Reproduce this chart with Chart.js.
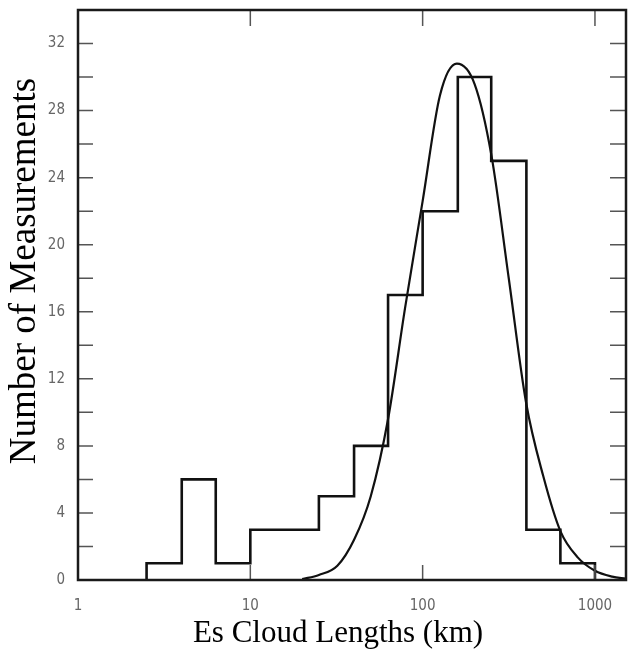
<!DOCTYPE html>
<html><head><meta charset="utf-8">
<script src="https://cdn.jsdelivr.net/npm/chart.js@4/dist/chart.umd.min.js"></script>
<style>html,body{margin:0;padding:0;background:#fff;}#wrap{width:628px;height:652px;}</style>
</head><body><div id="wrap"><canvas id="c" width="628" height="652"></canvas></div>
<script>
// ---- data ----
const binEdges  = [2.5, 4, 6.3, 10, 16, 25, 40, 63, 100, 160, 250, 400, 630, 1000];
const binCounts = [1, 6, 1, 3, 3, 5, 8, 17, 22, 30, 25, 3, 1];
const curveX = [20, 25, 32, 40, 50, 63, 79, 100, 126, 158, 200, 251, 316, 398, 501, 631, 794, 1000, 1259, 1514];
const curveY = [0.05, 0.3, 0.85, 2.4, 5.0, 9.6, 16.2, 22.6, 28.9, 30.8, 29.6, 25.3, 18.0, 10.6, 6.2, 2.9, 1.35, 0.55, 0.2, 0.08];
const xTickValues = [1, 10, 100, 1000];
const yTickValues = [0, 4, 8, 12, 16, 20, 24, 28, 32];
const yMarkValues = [2, 4, 6, 8, 10, 12, 14, 16, 18, 20, 22, 24, 26, 28, 30, 32];
const xMarkValues = [10, 100, 1000];
const xTitle = 'Es Cloud Lengths (km)';
const yTitle = 'Number of Measurements';

// build step points for the histogram
const histPts = [{x: binEdges[0], y: 0}];
binCounts.forEach((c, i) => histPts.push({x: binEdges[i], y: c}));
histPts.push({x: binEdges[binEdges.length - 1], y: 0});
const curvePts = curveX.map((x, i) => ({x: x, y: curveY[i]}));

const framePlugin = {
  id: 'frame',
  afterDraw(chart) {
    const ctx = chart.ctx, a = chart.chartArea;
    const xs = chart.scales.x, ys = chart.scales.y;
    ctx.save();
    // tick marks (inward)
    ctx.strokeStyle = '#555';
    ctx.lineWidth = 1.5;
    ctx.beginPath();
    yMarkValues.forEach(v => {
      const y = ys.getPixelForValue(v);
      ctx.moveTo(a.left, y); ctx.lineTo(a.left + 15, y);
      ctx.moveTo(a.right, y); ctx.lineTo(a.right - 16, y);
    });
    xMarkValues.forEach(v => {
      const x = xs.getPixelForValue(v);
      ctx.moveTo(x, a.top); ctx.lineTo(x, a.top + 16);
      ctx.moveTo(x, a.bottom); ctx.lineTo(x, a.bottom - 15);
    });
    ctx.stroke();
    // frame
    ctx.strokeStyle = '#1a1a1a';
    ctx.lineWidth = 2.5;
    ctx.strokeRect(a.left, a.top, a.right - a.left, a.bottom - a.top);
    // titles
    ctx.fillStyle = '#000';
    ctx.font = '31px "Liberation Serif", "Times New Roman", serif';
    ctx.textAlign = 'center';
    ctx.textBaseline = 'alphabetic';
    ctx.fillText(xTitle, 338, 642);
    ctx.translate(35, 271);
    ctx.rotate(-Math.PI / 2);
    ctx.font = '37px "Liberation Serif", "Times New Roman", serif';
    ctx.fillText(yTitle, 0, 0);
    ctx.restore();
  }
};

const tickFont = {family: '"Liberation Sans Narrow", "DejaVu Sans Condensed", "Liberation Sans", sans-serif', size: 15};

new Chart(document.getElementById('c').getContext('2d'), {
  type: 'line',
  data: {
    datasets: [
      {data: histPts, stepped: 'before', borderColor: '#111', borderWidth: 2.6, pointRadius: 0, fill: false},
      {data: curvePts, borderColor: '#111', borderWidth: 2.2, pointRadius: 0, fill: false, cubicInterpolationMode: 'monotone'}
    ]
  },
  options: {
    responsive: false,
    animation: false,
    devicePixelRatio: 1,
    layout: {padding: {top: 10, right: 2, left: 0, bottom: 0}},
    plugins: {legend: {display: false}, tooltip: {enabled: false}},
    scales: {
      x: {
        type: 'logarithmic', min: 1, max: 1514,
        afterBuildTicks: s => { s.ticks = xTickValues.map(v => ({value: v})); },
        afterFit: s => { s.height = 72; s.paddingLeft = 0; s.paddingRight = 0; },
        grid: {display: false, drawTicks: false},
        border: {display: false},
        ticks: {autoSkip: false, maxRotation: 0, padding: 17, color: '#666', font: tickFont, callback: v => String(v)}
      },
      y: {
        type: 'linear', min: 0, max: 34,
        afterBuildTicks: s => { s.ticks = yTickValues.map(v => ({value: v})); },
        afterFit: s => { s.width = 78; s.paddingTop = 0; s.paddingBottom = 0; },
        grid: {display: false, drawTicks: false},
        border: {display: false},
        ticks: {autoSkip: false, padding: 13, color: '#666', font: tickFont, callback: v => String(v)}
      }
    }
  },
  plugins: [framePlugin]
});
</script>
</body></html>
